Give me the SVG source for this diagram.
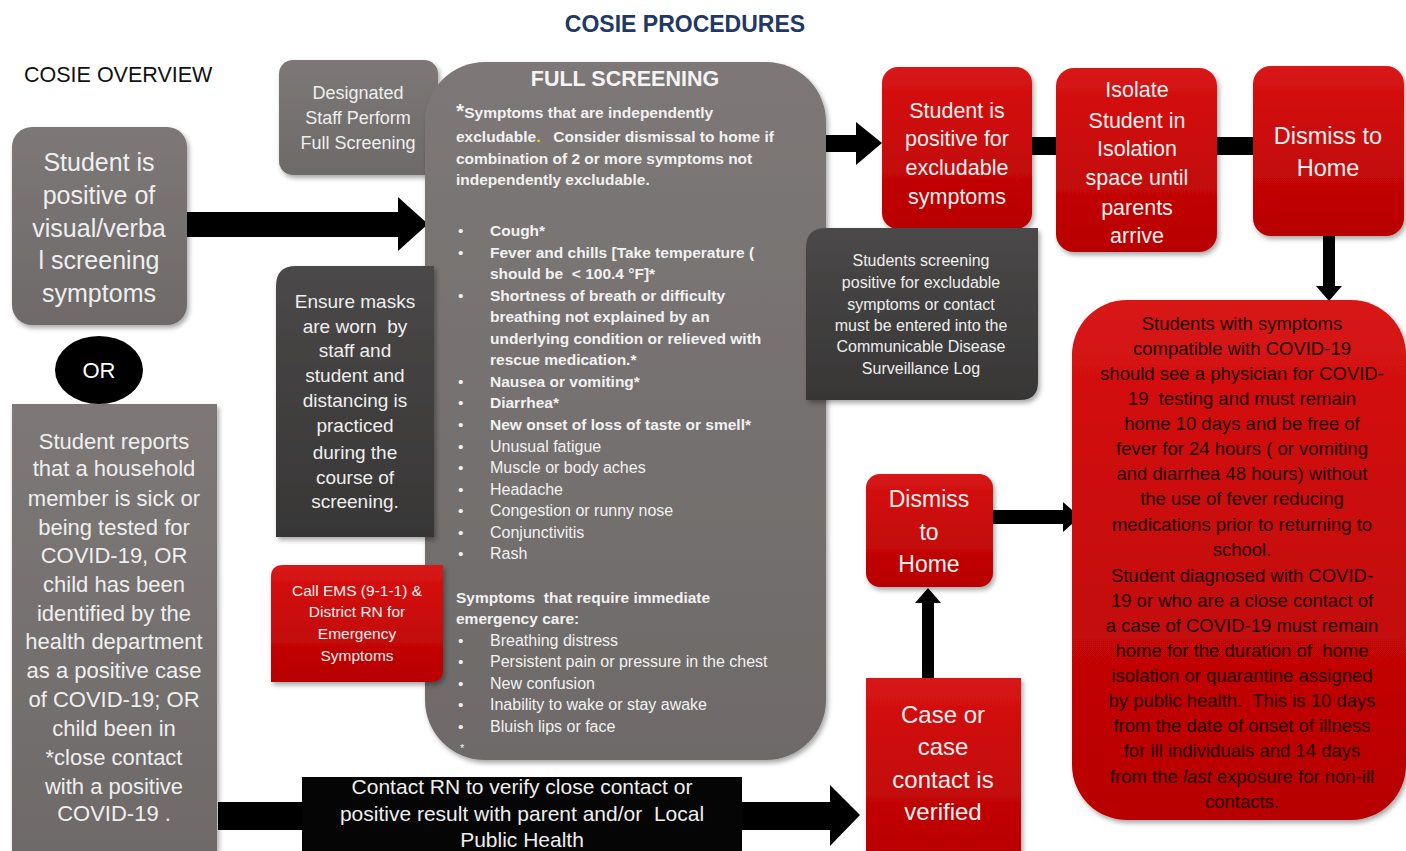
<svg xmlns="http://www.w3.org/2000/svg" width="1406" height="851" viewBox="0 0 1406 851">
<defs>
<linearGradient id="gGray" x1="0" y1="0" x2="0" y2="1"><stop offset="0" stop-color="#7d7877"/><stop offset="1" stop-color="#6e6a69"/></linearGradient>
<linearGradient id="gDark" x1="0" y1="0" x2="0" y2="1"><stop offset="0" stop-color="#4a4848"/><stop offset="1" stop-color="#383636"/></linearGradient>
<linearGradient id="gRed" x1="0" y1="0" x2="0" y2="1"><stop offset="0" stop-color="#d81414"/><stop offset="1" stop-color="#b80000"/></linearGradient>
<filter id="sh" x="-10%" y="-10%" width="125%" height="125%"><feDropShadow dx="2" dy="3" stdDeviation="2.5" flood-color="#000" flood-opacity="0.35"/></filter>
</defs>
<style>
text{font-family:"Liberation Sans",Arial,sans-serif;white-space:pre;}
.c{text-anchor:middle;}
.w{fill:#efefef;}
.gray{fill:url(#gGray);filter:url(#sh);}
.dark{fill:url(#gDark);filter:url(#sh);}
.red{fill:url(#gRed);filter:url(#sh);}
.fs{font-size:15.5px;fill:#f2f2f2;}
.fn{font-size:16px;fill:#f2f2f2;}
.b{font-weight:bold;}
.conn{fill:#000;}
</style>
<text x="685" y="32" class="c b" style="font-size:23px;fill:#1f3864">COSIE PROCEDURES</text>
<text x="24" y="82" style="font-size:21.5px;fill:#111">COSIE OVERVIEW</text>

<g id="connectors" class="conn">
<polygon points="187,212 398,212 398,197 428,224 398,251 398,237 187,237"/>
<polygon points="826,135 856,135 856,122 882,143 856,165 856,152 826,152"/>
<rect x="1032" y="137" width="24" height="18"/>
<rect x="1217" y="137" width="36" height="18"/>
<polygon points="1323,236 1335,236 1335,286 1342,286 1329,301 1316,286 1323,286"/>
<polygon points="993,510 1063,510 1063,502 1080,517 1063,532 1063,524 993,524"/>
<polygon points="922,678 934,678 934,603 941,603 928,588 915,603 922,603"/>
<polygon points="218,802 830,802 830,785 860,815 830,846 830,830 218,830"/>
</g>

<g id="n-student-positive">
<rect x="12" y="127" width="175" height="198" rx="20" class="gray"/>
<g class="c w" style="font-size:25px">
<text x="99" y="171">Student is</text>
<text x="99" y="204">positive of</text>
<text x="99" y="237">visual/verba</text>
<text x="99" y="269">l screening</text>
<text x="99" y="302">symptoms</text>
</g>
</g>

<g id="n-or">
<ellipse cx="99" cy="370" rx="44" ry="34" fill="#000"/>
<text x="99" y="378" class="c" style="font-size:22px;fill:#fff">OR</text>
</g>

<g id="n-student-reports">
<rect x="12" y="404" width="205" height="447" class="gray"/>
<g class="c w" style="font-size:22px">
<text x="114" y="449">Student reports</text>
<text x="114" y="476">that a household</text>
<text x="114" y="506">member is sick or</text>
<text x="114" y="535">being tested for</text>
<text x="114" y="563">COVID-19, OR</text>
<text x="114" y="592">child has been</text>
<text x="114" y="621">identified by the</text>
<text x="114" y="649">health department</text>
<text x="114" y="678">as a positive case</text>
<text x="114" y="707">of COVID-19; OR</text>
<text x="114" y="736">child been in</text>
<text x="114" y="765">*close contact</text>
<text x="114" y="794">with a positive</text>
<text x="114" y="821">COVID-19 .</text>
</g>
</g>

<g id="n-designated">
<rect x="279" y="60" width="159" height="115" rx="14" class="gray"/>
<g class="c w" style="font-size:18px">
<text x="358" y="99">Designated</text>
<text x="358" y="124">Staff Perform</text>
<text x="358" y="149">Full Screening</text>
</g>
</g>

<g id="n-full-screening">
<rect x="425" y="62" width="401" height="698" rx="60" class="gray"/>
<text x="625" y="86" class="c b" style="font-size:21.5px;fill:#f4f4f4">FULL SCREENING</text>
<g class="fs b">
<text x="456" y="118"><tspan style="font-size:21px">*</tspan>Symptoms that are independently</text>
<text x="456" y="142">excludable<tspan fill="#e8e000">.</tspan>   Consider dismissal to home if</text>
<text x="456" y="164">combination of 2 or more symptoms not</text>
<text x="456" y="185">independently excludable.</text>
</g>
<g class="fs">
<text x="458" y="236">•</text><text x="458" y="258">•</text><text x="458" y="301">•</text>
<text x="458" y="387">•</text><text x="458" y="408">•</text><text x="458" y="430">•</text>
<text x="458" y="452">•</text><text x="458" y="473">•</text><text x="458" y="495">•</text>
<text x="458" y="516">•</text><text x="458" y="538">•</text><text x="458" y="559">•</text>
<text x="458" y="646">•</text><text x="458" y="667">•</text><text x="458" y="689">•</text>
<text x="458" y="710">•</text><text x="458" y="732">•</text>
<text x="460" y="752" style="font-size:11px">*</text>
</g>
<g class="fs b">
<text x="490" y="236">Cough*</text>
<text x="490" y="258">Fever and chills [Take temperature (</text>
<text x="490" y="279">should be  &lt; 100.4 °F]*</text>
<text x="490" y="301">Shortness of breath or difficulty</text>
<text x="490" y="322">breathing not explained by an</text>
<text x="490" y="344">underlying condition or relieved with</text>
<text x="490" y="365">rescue medication.*</text>
<text x="490" y="387">Nausea or vomiting*</text>
<text x="490" y="408">Diarrhea*</text>
<text x="490" y="430">New onset of loss of taste or smell*</text>
</g>
<g class="fn">
<text x="490" y="452">Unusual fatigue</text>
<text x="490" y="473">Muscle or body aches</text>
<text x="490" y="495">Headache</text>
<text x="490" y="516">Congestion or runny nose</text>
<text x="490" y="538">Conjunctivitis</text>
<text x="490" y="559">Rash</text>
</g>
<g class="fs b">
<text x="456" y="603">Symptoms  that require immediate</text>
<text x="456" y="624">emergency care:</text>
</g>
<g class="fn">
<text x="490" y="646">Breathing distress</text>
<text x="490" y="667">Persistent pain or pressure in the chest</text>
<text x="490" y="689">New confusion</text>
<text x="490" y="710">Inability to wake or stay awake</text>
<text x="490" y="732">Bluish lips or face</text>
</g>
</g>

<g id="n-ensure-masks">
<path d="M296,266 H434 V537 H276 V286 Q276,266 296,266 Z" class="dark"/>
<g class="c w" style="font-size:19px">
<text x="355" y="308">Ensure masks</text>
<text x="355" y="333">are worn  by</text>
<text x="355" y="357">staff and</text>
<text x="355" y="382">student and</text>
<text x="355" y="407">distancing is</text>
<text x="355" y="432">practiced</text>
<text x="355" y="459">during the</text>
<text x="355" y="484">course of</text>
<text x="355" y="508">screening.</text>
</g>
</g>

<g id="n-call-ems">
<path d="M283,565 H443 V670 Q443,682 431,682 H271 V577 Q271,565 283,565 Z" class="red"/>
<g class="c w" style="font-size:15.5px">
<text x="357" y="596">Call EMS (9-1-1) &amp;</text>
<text x="357" y="617">District RN for</text>
<text x="357" y="639">Emergency</text>
<text x="357" y="661">Symptoms</text>
</g>
</g>

<g id="n-contact-rn">
<rect x="302" y="777" width="440" height="80" fill="#050505"/>
<g class="c w" style="font-size:21px">
<text x="522" y="794">Contact RN to verify close contact or</text>
<text x="522" y="821">positive result with parent and/or  Local</text>
<text x="522" y="847">Public Health</text>
</g>
</g>

<g id="n-positive-excludable">
<rect x="882" y="67" width="150" height="162" rx="16" class="red"/>
<g class="c w" style="font-size:21.5px">
<text x="957" y="118">Student is</text>
<text x="957" y="146">positive for</text>
<text x="957" y="175">excludable</text>
<text x="957" y="204">symptoms</text>
</g>
</g>

<g id="n-isolate">
<rect x="1056" y="68" width="161" height="184" rx="18" class="red"/>
<g class="c w" style="font-size:21.5px">
<text x="1137" y="97">Isolate</text>
<text x="1137" y="128">Student in</text>
<text x="1137" y="156">Isolation</text>
<text x="1137" y="185">space until</text>
<text x="1137" y="215">parents</text>
<text x="1137" y="243">arrive</text>
</g>
</g>

<g id="n-dismiss-top">
<rect x="1253" y="66" width="151" height="170" rx="18" class="red"/>
<g class="c w" style="font-size:23.5px">
<text x="1328" y="144">Dismiss to</text>
<text x="1328" y="176">Home</text>
</g>
</g>

<g id="n-surveillance">
<path d="M826,228 H1038 V382 Q1038,400 1020,400 H806 V248 Q806,228 826,228 Z" class="dark"/>
<g class="c w" style="font-size:16px">
<text x="921" y="266">Students screening</text>
<text x="921" y="288">positive for excludable</text>
<text x="921" y="310">symptoms or contact</text>
<text x="921" y="331">must be entered into the</text>
<text x="921" y="352">Communicable Disease</text>
<text x="921" y="374">Surveillance Log</text>
</g>
</g>

<g id="n-dismiss-mid">
<rect x="866" y="474" width="127" height="113" rx="14" class="red"/>
<g class="c w" style="font-size:23px">
<text x="929" y="507">Dismiss</text>
<text x="929" y="540">to</text>
<text x="929" y="572">Home</text>
</g>
</g>

<g id="n-case-verified">
<rect x="866" y="678" width="155" height="180" class="red"/>
<g class="c w" style="font-size:24px">
<text x="943" y="723">Case or</text>
<text x="943" y="755">case</text>
<text x="943" y="788">contact is</text>
<text x="943" y="820">verified</text>
</g>
</g>

<g id="n-guidance">
<rect x="1072" y="300" width="334" height="520" rx="55" class="red"/>
<g class="c" style="font-size:18.5px;fill:#1e0303">
<text x="1242" y="330">Students with symptoms</text>
<text x="1242" y="355">compatible with COVID-19</text>
<text x="1242" y="380">should see a physician for COVID-</text>
<text x="1242" y="405">19  testing and must remain</text>
<text x="1242" y="430">home 10 days and be free of</text>
<text x="1242" y="455">fever for 24 hours ( or vomiting</text>
<text x="1242" y="480">and diarrhea 48 hours) without</text>
<text x="1242" y="505">the use of fever reducing</text>
<text x="1242" y="531">medications prior to returning to</text>
<text x="1242" y="556">school.</text>
<text x="1242" y="582">Student diagnosed with COVID-</text>
<text x="1242" y="607">19 or who are a close contact of</text>
<text x="1242" y="632">a case of COVID-19 must remain</text>
<text x="1242" y="657">home for the duration of  home</text>
<text x="1242" y="682">isolation or quarantine assigned</text>
<text x="1242" y="707">by public health.  This is 10 days</text>
<text x="1242" y="732">from the date of onset of illness</text>
<text x="1242" y="757">for ill individuals and 14 days</text>
<text x="1242" y="783">from the <tspan font-style="italic">last</tspan> exposure for non-ill</text>
<text x="1242" y="808">contacts.</text>
</g>
</g>
</svg>
